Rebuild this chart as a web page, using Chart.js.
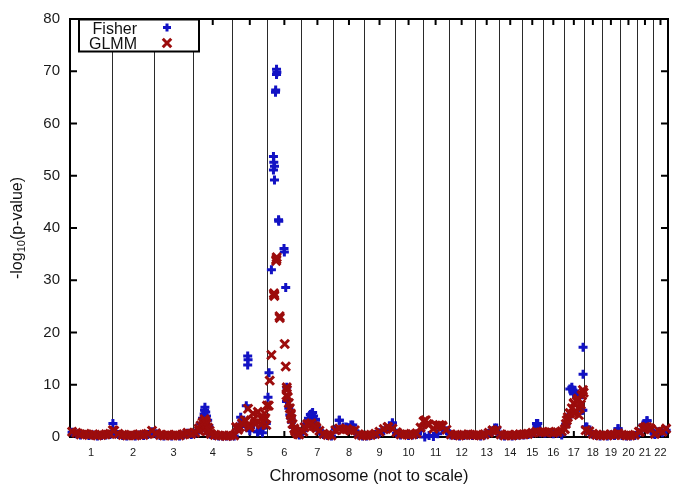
<!DOCTYPE html>
<html>
<head>
<meta charset="utf-8">
<script src="https://cdn.jsdelivr.net/npm/chart.js@4.4.0/dist/chart.umd.min.js"></script>
<style>
  html, body { margin: 0; padding: 0; background: #fff; }
  #myChart { display: block; }
</style>
</head>
<body>
<canvas id="myChart" width="685" height="490"></canvas>
<script>
const CHROMOSOMES = ["1", "2", "3", "4", "5", "6", "7", "8", "9", "10", "11",
  "12", "13", "14", "15", "16", "17", "18", "19", "20", "21", "22"];

// relative width of each chromosome on the (not to scale) axis
const CHROM_SPAN = [42, 42, 39, 39, 35, 34, 32, 31, 30, 28, 26,
  26, 24, 23, 21, 21, 20, 18, 18, 17, 16, 15];

const Y_TICKS = [0, 10, 20, 30, 40, 50, 60, 70, 80];

// background markers, evenly spread inside each chromosome (null = no marker)
const FISHER_BASE = [
  [0.9, 0.6, 0.4, 0.5, 0.3, 0.4, 0.2, 0.3, 0.4, 0.5],
  [1.0, 0.5, 0.3, 0.2, 0.3, 0.2, 0.4, 0.3, 0.5, 1.0],
  [0.6, 0.3, 0.2, 0.3, 0.2, 0.3, 0.2, 0.4, 0.7, 0.5],
  [0.7, 1.4, 2.0, 1.2, 0.5, 0.3, 0.2, 0.2, 0.2, 0.2],
  [0.2, 1.6, 3.0, 2.0, 1.2, 2.4, 1.0, 1.7, 2.6],
  [null, null, null, null, 6.8, 3.8, 1.0, 0.4],
  [1.2, 3.0, 4.4, 3.4, 1.3, 0.5, 0.3, 0.2],
  [1.5, 3.2, 1.9, 1.8, 2.3, 1.2, 0.4, 0.2],
  [0.2, 0.3, 0.5, 0.8, 1.2, 1.6, 2.7],
  [0.7, 0.4, 0.5, 0.3, 0.4, 0.5, 1.2],
  [0.0, 0.3, 0.1, 0.6, 1.5, 1.2],
  [0.4, 0.3, 0.2, 0.3, 0.4, 0.3],
  [0.3, 0.2, 0.4, 0.7, 1.1, 1.7],
  [0.4, 0.2, 0.3, 0.2, 0.3, 0.4],
  [0.4, 0.5, 0.7, 2.6, 0.8],
  [0.7, 0.8, 0.6, 0.7, 0.4],
  [2.4, 9.2, 8.3, 7.6, 5.1],
  [1.9, 1.0, 0.5, 0.3, 0.2],
  [0.3, 0.2, 0.4, 0.3, 1.6],
  [0.3, 0.2, 0.2, 0.3],
  [0.8, 2.3, 3.1, 1.3],
  [0.5, 1.0, 0.8, 1.3],
];

const GLMM_BASE = [
  [1.0, 0.8, 0.5, 0.6, 0.4, 0.5, 0.3, 0.4, 0.5, 0.6],
  [1.2, 0.6, 0.4, 0.3, 0.4, 0.3, 0.5, 0.4, 0.6, 1.2],
  [0.7, 0.4, 0.3, 0.4, 0.3, 0.4, 0.3, 0.5, 0.8, 0.6],
  [0.8, 1.2, 1.6, 1.1, 0.6, 0.4, 0.3, 0.3, 0.2, 0.3],
  [0.3, 1.4, 2.6, 3.1, 2.2, 3.4, 2.9, 2.4, 3.6],
  [null, null, null, null, 8.0, 4.2, 1.2, 0.5],
  [1.0, 2.4, 2.6, 2.0, 1.2, 0.6, 0.4, 0.3],
  [1.3, 1.6, 1.4, 1.5, 1.2, 1.3, 0.5, 0.3],
  [0.3, 0.4, 0.6, 1.0, 1.5, 1.9, 1.6],
  [0.9, 0.5, 0.6, 0.4, 0.5, 0.7, 1.8],
  [3.1, 2.4, 1.6, 2.1, 2.2, 1.4],
  [0.5, 0.4, 0.3, 0.4, 0.5, 0.4],
  [0.4, 0.3, 0.5, 0.8, 1.2, 1.3],
  [0.5, 0.3, 0.4, 0.3, 0.4, 0.5],
  [0.5, 0.6, 0.8, 1.0, 0.9],
  [0.9, 1.0, 0.8, 0.9, 1.1],
  [2.5, 4.6, 6.4, 7.3, 8.0],
  [1.3, 1.1, 0.6, 0.4, 0.3],
  [0.4, 0.3, 0.5, 0.4, 0.7],
  [0.4, 0.3, 0.3, 0.4],
  [1.0, 1.6, 1.9, 1.5],
  [0.6, 1.2, 1.0, 1.6],
];

// signal markers: [chromosome, position inside chromosome (0-1), -log10 p]
const FISHER_PEAKS = [
  [2, 0.02, 2.6],
  [4, 0.19, 2.6], [4, 0.24, 3.6], [4, 0.28, 4.4], [4, 0.29, 5.1], [4, 0.30, 5.7],
  [4, 0.32, 4.8], [4, 0.34, 4.0], [4, 0.37, 3.2], [4, 0.40, 2.2],
  [5, 0.24, 3.8], [5, 0.40, 6.0], [5, 0.44, 15.5], [5, 0.45, 14.8], [5, 0.44, 13.8],
  [5, 0.79, 1.3], [5, 0.87, 1.7], [5, 0.97, 2.6], [5, 0.73, 1.0], [5, 0.86, 0.8],
  [6, 0.02, 7.6], [6, 0.05, 12.3], [6, 0.12, 32.0], [6, 0.18, 53.7], [6, 0.19, 52.6],
  [6, 0.21, 51.8], [6, 0.18, 51.1], [6, 0.21, 49.2], [6, 0.27, 70.4], [6, 0.28, 69.8],
  [6, 0.27, 69.4], [6, 0.245, 66.4], [6, 0.24, 66.0], [6, 0.33, 41.6], [6, 0.335, 41.3],
  [6, 0.49, 36.1], [6, 0.50, 35.4], [6, 0.54, 28.6], [6, 0.57, 9.5], [6, 0.60, 7.0],
  [6, 0.63, 5.5], [6, 0.66, 4.2], [6, 0.69, 3.6], [6, 0.71, 2.8], [6, 0.77, 1.8],
  [7, 0.16, 2.5], [7, 0.22, 3.6], [7, 0.28, 4.3], [7, 0.35, 4.7], [7, 0.38, 4.0], [7, 0.44, 3.2],
  [8, 0.19, 3.2], [8, 0.41, 1.9], [8, 0.62, 2.3],
  [9, 0.93, 2.7],
  [13, 0.83, 1.7],
  [15, 0.76, 2.6], [15, 0.72, 2.0],
  [17, 0.40, 9.5], [17, 0.45, 9.0], [17, 0.50, 8.3], [17, 0.55, 8.8], [17, 0.65, 7.8],
  [17, 0.75, 7.5], [17, 0.96, 17.2], [17, 0.96, 12.0], [17, 0.95, 5.1], [17, 0.20, 3.8],
  [17, 0.10, 2.5],
  [18, 0.17, 1.9],
  [19, 0.89, 1.6],
  [21, 0.63, 3.1], [21, 0.50, 2.3],
];

const GLMM_PEAKS = [
  [2, 0.02, 1.3],
  [4, 0.14, 1.6], [4, 0.19, 2.2], [4, 0.24, 2.8], [4, 0.29, 3.4], [4, 0.32, 3.0],
  [4, 0.34, 2.5], [4, 0.38, 1.8], [4, 0.42, 1.2],
  [5, 0.11, 1.9], [5, 0.21, 1.9], [5, 0.35, 3.2], [5, 0.45, 5.4], [5, 0.49, 1.9],
  [5, 0.59, 4.5], [5, 0.64, 2.6], [5, 0.73, 4.8], [5, 0.83, 3.5], [5, 0.92, 4.5],
  [5, 0.97, 2.3], [5, 0.99, 6.0],
  [6, 0.04, 6.0], [6, 0.07, 10.8], [6, 0.12, 15.7], [6, 0.20, 27.2], [6, 0.205, 27.0],
  [6, 0.195, 27.5], [6, 0.265, 34.0], [6, 0.26, 33.7], [6, 0.275, 34.4], [6, 0.36, 23.1],
  [6, 0.365, 22.8], [6, 0.51, 17.8], [6, 0.54, 13.5], [6, 0.57, 9.5], [6, 0.575, 9.0],
  [6, 0.60, 7.6], [6, 0.63, 6.5], [6, 0.66, 5.5], [6, 0.69, 4.5], [6, 0.71, 3.5],
  [6, 0.74, 2.5], [6, 0.79, 1.6], [6, 0.83, 1.0], [6, 0.89, 0.6],
  [7, 0.10, 1.9], [7, 0.19, 2.5], [7, 0.28, 2.5], [7, 0.38, 2.1], [7, 0.47, 1.7],
  [9, 0.77, 1.9],
  [11, 0.04, 3.0], [11, 0.12, 3.2], [11, 0.19, 2.5], [11, 0.54, 2.0], [11, 0.65, 2.3],
  [11, 0.77, 2.0],
  [13, 0.75, 1.3],
  [17, 0.05, 1.5], [17, 0.15, 3.2], [17, 0.20, 3.8], [17, 0.30, 4.5], [17, 0.40, 5.5],
  [17, 0.50, 6.5], [17, 0.52, 4.5], [17, 0.60, 5.0], [17, 0.65, 6.8], [17, 0.70, 7.3],
  [17, 0.75, 4.2], [17, 0.80, 5.5], [17, 0.85, 6.2], [17, 0.90, 8.0], [17, 0.95, 9.0],
  [17, 0.99, 8.5],
  [21, 0.2, 1.0], [21, 0.5, 1.9], [21, 0.8, 1.7],
];

const BLUE = "#1212c4";
const RED = "#9c0c0c";
const FONT = "'Liberation Sans', Arial, sans-serif";

const chromStart = [];
let total = 0;
CHROM_SPAN.forEach((span) => {
  chromStart.push(total);
  total += span;
});
const chromCenter = CHROM_SPAN.map((span, i) => chromStart[i] + span / 2);

function buildPoints(base, peaks) {
  const points = [];
  base.forEach((values, c) => {
    values.forEach((value, i) => {
      if (value === null) return;
      points.push({ x: chromStart[c] + (CHROM_SPAN[c] * (i + 0.5)) / values.length, y: value });
    });
  });
  peaks.forEach(([chrom, frac, value]) => {
    const c = chrom - 1;
    points.push({ x: chromStart[c] + CHROM_SPAN[c] * frac, y: value });
  });
  return points;
}

function drawMarker(ctx, style, x, y, r, color) {
  ctx.save();
  ctx.strokeStyle = color;
  ctx.lineWidth = 3;
  ctx.beginPath();
  if (style === "cross") {
    ctx.moveTo(x - r, y);
    ctx.lineTo(x + r, y);
    ctx.moveTo(x, y - r);
    ctx.lineTo(x, y + r);
  } else {
    const d = r * Math.SQRT1_2;
    ctx.moveTo(x - d, y - d);
    ctx.lineTo(x + d, y + d);
    ctx.moveTo(x + d, y - d);
    ctx.lineTo(x - d, y + d);
  }
  ctx.stroke();
  ctx.restore();
}

const framePlugin = {
  id: "frame",
  beforeDatasetsDraw(chart) {
    const { ctx, chartArea: a, scales: { x, y } } = chart;
    ctx.save();
    // chromosome boundaries
    ctx.strokeStyle = "#2a2a2a";
    ctx.lineWidth = 1;
    ctx.beginPath();
    chromStart.slice(1).forEach((v) => {
      const px = Math.round(x.getPixelForValue(v)) + 0.5;
      ctx.moveTo(px, a.top);
      ctx.lineTo(px, a.bottom);
    });
    ctx.stroke();
    // inward tick marks, mirrored
    ctx.strokeStyle = "#000";
    ctx.lineWidth = 2;
    ctx.beginPath();
    Y_TICKS.forEach((v) => {
      const py = y.getPixelForValue(v);
      ctx.moveTo(a.left, py);
      ctx.lineTo(a.left + 7, py);
      ctx.moveTo(a.right, py);
      ctx.lineTo(a.right - 7, py);
    });
    chromCenter.forEach((v) => {
      const px = x.getPixelForValue(v);
      ctx.moveTo(px, a.top);
      ctx.lineTo(px, a.top + 6);
      ctx.moveTo(px, a.bottom);
      ctx.lineTo(px, a.bottom - 6);
    });
    ctx.stroke();
    ctx.strokeRect(a.left, a.top, a.right - a.left, a.bottom - a.top);
    ctx.restore();
  },
  afterDraw(chart) {
    const { ctx, chartArea: a } = chart;
    ctx.save();
    ctx.fillStyle = "#111";

    // x title
    ctx.font = "16.5px " + FONT;
    ctx.textAlign = "center";
    ctx.textBaseline = "alphabetic";
    ctx.fillText("Chromosome (not to scale)", (a.left + a.right) / 2, 481);

    // y title with subscript
    const mainFont = "16px " + FONT;
    const subFont = "11px " + FONT;
    ctx.font = mainFont;
    const w1 = ctx.measureText("-log").width;
    const w3 = ctx.measureText("(p-value)").width;
    ctx.font = subFont;
    const w2 = ctx.measureText("10").width;
    const totalW = w1 + w2 + w3;
    ctx.translate(17, (a.top + a.bottom) / 2);
    ctx.rotate(-Math.PI / 2);
    ctx.textAlign = "left";
    let pos = -totalW / 2;
    ctx.font = mainFont;
    ctx.fillText("-log", pos, 5);
    pos += w1;
    ctx.font = subFont;
    ctx.fillText("10", pos, 8);
    pos += w2;
    ctx.font = mainFont;
    ctx.fillText("(p-value)", pos, 5);
    ctx.restore();

    // legend box
    ctx.save();
    ctx.fillStyle = "#fff";
    ctx.fillRect(79, 19.5, 120, 32);
    ctx.strokeStyle = "#000";
    ctx.lineWidth = 2;
    ctx.strokeRect(79, 19.5, 120, 32);
    ctx.fillStyle = "#111";
    ctx.font = "16px " + FONT;
    ctx.textAlign = "right";
    ctx.textBaseline = "alphabetic";
    ctx.fillText("Fisher", 137, 33.5);
    ctx.fillText("GLMM", 137, 48.5);
    ctx.restore();
    drawMarker(ctx, "cross", 167, 27.5, 4, BLUE);
    drawMarker(ctx, "crossRot", 167, 43, 6, RED);
  },
};

const ctx = document.getElementById("myChart").getContext("2d");

new Chart(ctx, {
  type: "scatter",
  data: {
    datasets: [
      {
        label: "GLMM",
        data: buildPoints(GLMM_BASE, GLMM_PEAKS),
        pointStyle: "crossRot",
        pointRadius: 6,
        pointBorderWidth: 3,
        pointBorderColor: RED,
        pointBackgroundColor: RED,
        order: 0,
        clip: false,
      },
      {
        label: "Fisher",
        data: buildPoints(FISHER_BASE, FISHER_PEAKS),
        pointStyle: "cross",
        pointRadius: 4.5,
        pointBorderWidth: 3,
        pointBorderColor: BLUE,
        pointBackgroundColor: BLUE,
        order: 1,
        clip: false,
      },
    ],
  },
  options: {
    responsive: false,
    animation: false,
    devicePixelRatio: 1,
    layout: { padding: { left: 0, right: 17, top: 14, bottom: 0 } },
    plugins: {
      legend: { display: false },
      tooltip: { enabled: false },
    },
    scales: {
      x: {
        type: "linear",
        min: 0,
        max: total,
        grid: { display: false, drawTicks: false },
        border: { display: false },
        afterBuildTicks: function (scale) {
          scale.ticks = chromCenter.map((v) => ({ value: v }));
        },
        afterFit: function (scale) {
          scale.height = 53;
        },
        ticks: {
          autoSkip: false,
          maxRotation: 0,
          padding: 9,
          color: "#1a1a1a",
          font: { family: FONT, size: 11 },
          callback: function (value, index) {
            return CHROMOSOMES[index];
          },
        },
      },
      y: {
        min: 0,
        max: 80,
        grid: { display: false, drawTicks: false },
        border: { display: false },
        afterBuildTicks: function (scale) {
          scale.ticks = Y_TICKS.map((v) => ({ value: v }));
        },
        afterFit: function (scale) {
          scale.width = 70;
        },
        ticks: {
          padding: 10,
          color: "#1a1a1a",
          font: { family: FONT, size: 15 },
        },
      },
    },
  },
  plugins: [framePlugin],
});
</script>
</body>
</html>
